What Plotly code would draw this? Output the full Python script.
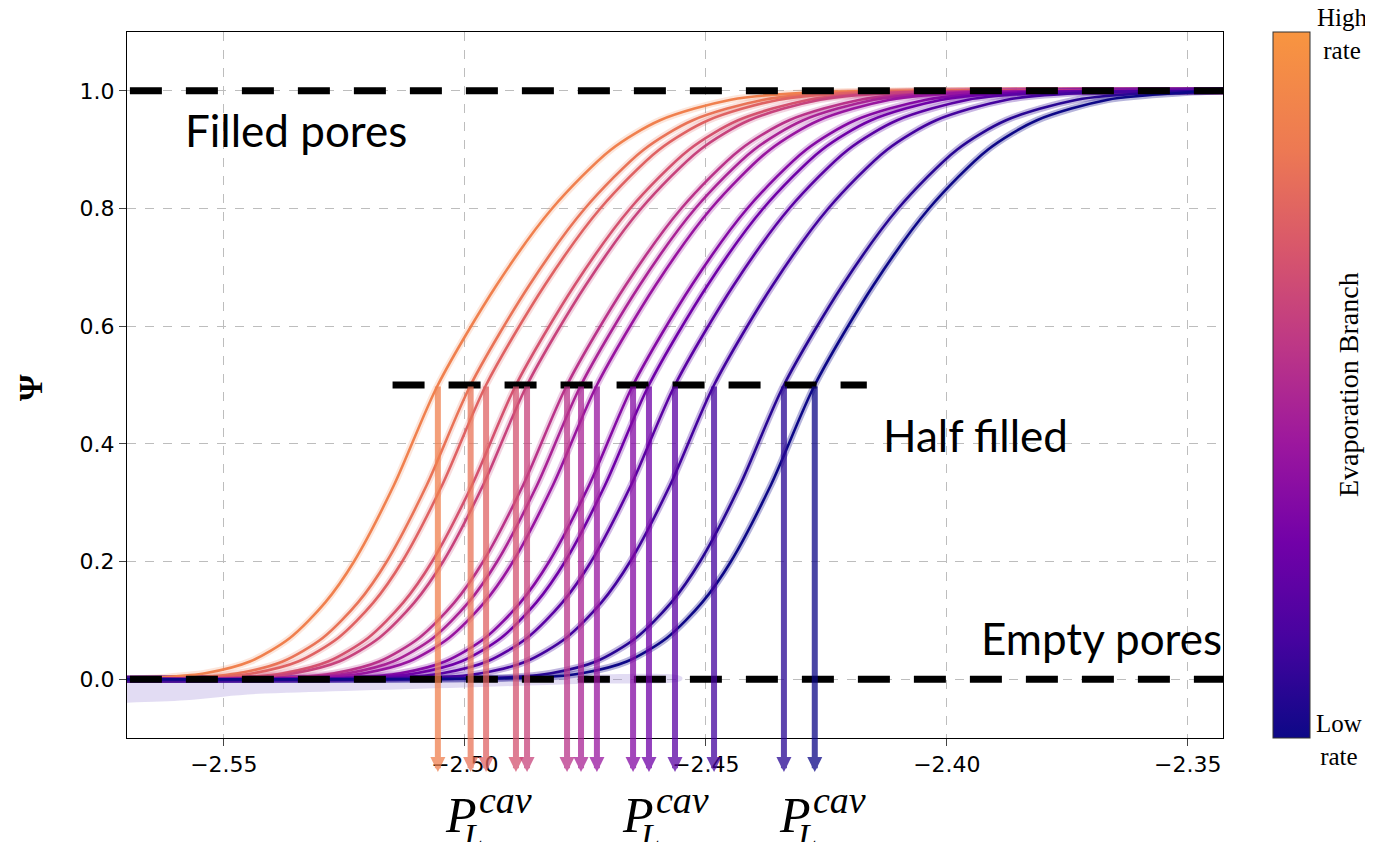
import plotly.graph_objects as go
from plotly.colors import sample_colorscale

# ---------------- data ----------------
X_RANGE = [-2.5701, -2.3427]
Y_RANGE = [-0.1, 1.1]
X_TICKS = [-2.55, -2.50, -2.45, -2.40, -2.35]
Y_TICKS = [0.0, 0.2, 0.4, 0.6, 0.8, 1.0]

# half-filling pressures (P_L^cav) of the 14 evaporation branches, high rate -> low rate
MIDPOINTS = [-2.5056, -2.4988, -2.4956, -2.4894, -2.4871, -2.4788, -2.4759,
             -2.4726, -2.4651, -2.4618, -2.4564, -2.4483, -2.4338, -2.4274]
# position on the colour bar (0 = low rate, 1 = high rate)
RATE_LEVELS = [0.875, 0.808, 0.740, 0.673, 0.606, 0.538, 0.471,
               0.404, 0.337, 0.269, 0.202, 0.135, 0.067, 0.0]

# sigmoid profile: psi levels and x-offset from the half point
PSI_LEVELS = [0.003, 0.01, 0.03, 0.07, 0.13, 0.2, 0.33, 0.5,
              0.67, 0.8, 0.9, 0.95, 0.985, 0.997]
SHAPE_OFFSETS = [-0.0571, -0.0483, -0.0390, -0.0307, -0.0234, -0.0174, -0.0091, 0.0,
                 0.0122, 0.0237, 0.0359, 0.0461, 0.0608, 0.0770]

# noisy baseline of the raw data (upper edge then lower edge)
NOISE_X_UP = [-2.5701, -2.555, -2.53, -2.50, -2.475, -2.455]
NOISE_Y_UP = [0.004, 0.005, 0.006, 0.007, 0.008, 0.004]
NOISE_X_LO = [-2.455, -2.475, -2.50, -2.525, -2.545, -2.558, -2.5701]
NOISE_Y_LO = [-0.002, -0.008, -0.014, -0.020, -0.026, -0.036, -0.040]

FILLED_LEVEL = 1.0
HALF_LEVEL = 0.5
EMPTY_LEVEL = 0.0
HALF_LINE_X = [-2.5156, -2.4166]
ARROW_TIP_Y = -0.158

SCALE = [[0.0, '#0d0887'], [0.139, '#46039f'], [0.278, '#7201a8'], [0.417, '#9c179e'],
         [0.556, '#bd3786'], [0.694, '#d8576b'], [0.833, '#ed7953'], [1.0, '#f89540']]

OFF = 8  # browser body margin (page pixels)


def rgba(col, a):
    col = col.strip()
    if col.startswith('rgb'):
        vals = col[col.index('(') + 1:col.index(')')].split(',')
        r, g, b = [int(float(v)) for v in vals[:3]]
    else:
        col = col.lstrip('#')
        r, g, b = int(col[0:2], 16), int(col[2:4], 16), int(col[4:6], 16)
    return f'rgba({r},{g},{b},{a})'


colors = sample_colorscale(SCALE, RATE_LEVELS)

fig = go.Figure()

# noisy baseline band
fig.add_trace(go.Scatter(x=NOISE_X_UP + NOISE_X_LO, y=NOISE_Y_UP + NOISE_Y_LO,
                         fill='toself', mode='lines', line=dict(width=0, shape='spline'),
                         fillcolor='rgba(160,140,215,0.30)', hoverinfo='skip',
                         showlegend=False))

curves = []
for mid, col in zip(MIDPOINTS, colors):
    xs = [X_RANGE[0]] + [mid + o for o in SHAPE_OFFSETS]
    ys = [0.0] + PSI_LEVELS
    if xs[-1] < X_RANGE[1] - 0.002:
        xs.append(X_RANGE[1])
        ys.append(1.0)
    curves.append((xs, ys, col))

# raw data halo
for i, (xs, ys, col) in enumerate(curves):
    alpha = 0.2 + 0.1 * i / (len(curves) - 1)
    fig.add_trace(go.Scatter(x=xs, y=ys, mode='lines',
                             line=dict(color=rgba(col, alpha), width=7, shape='spline', smoothing=0.8),
                             hoverinfo='skip', showlegend=False))
# fitted curves
for xs, ys, col in curves:
    fig.add_trace(go.Scatter(x=xs, y=ys, mode='lines',
                             line=dict(color=col, width=2.6, shape='spline', smoothing=0.8),
                             hoverinfo='skip', showlegend=False))

# dashed reference lines
for lx, ly in [(X_RANGE, [FILLED_LEVEL, FILLED_LEVEL]),
               (X_RANGE, [EMPTY_LEVEL, EMPTY_LEVEL]),
               (HALF_LINE_X, [HALF_LEVEL, HALF_LEVEL])]:
    fig.add_trace(go.Scatter(x=[lx[0] + 0.0006, lx[1]], y=ly, mode='lines',
                             line=dict(color='black', width=7, dash='32px,24px'),
                             hoverinfo='skip', showlegend=False))

# colour bar carrier
fig.add_trace(go.Scatter(x=[-3], y=[-3], mode='markers',
                         marker=dict(color=[0.5], cmin=0, cmax=1, colorscale=SCALE, showscale=True,
                                     colorbar=dict(thickness=37, thicknessmode='pixels',
                                                   len=706, lenmode='pixels',
                                                   x=1.0456, xanchor='left', xpad=0,
                                                   y=1.0, yanchor='top', ypad=0,
                                                   outlinewidth=1, outlinecolor='#333',
                                                   showticklabels=False, ticks='')),
                         hoverinfo='skip', showlegend=False))

annotations = []
# arrows
for mid, col in zip(MIDPOINTS, colors):
    annotations.append(dict(x=mid, y=ARROW_TIP_Y, ax=mid, ay=HALF_LEVEL, xref='x', yref='y',
                            axref='x', ayref='y', text='', showarrow=True, arrowhead=2,
                            arrowsize=0.5, arrowwidth=6, arrowcolor=rgba(col, 0.75),
                            standoff=0, startstandoff=0))


def px2paper(px, py):
    return (px - 127) / 1096.0, (738 - py) / 706.0


def add_text(text, px, py, size, family, color='black', xanchor='center', yanchor='middle', angle=0):
    x, y = px2paper(px, py)
    annotations.append(dict(x=x, y=y, xref='paper', yref='paper', text=text, showarrow=False,
                            xanchor=xanchor, yanchor=yanchor, textangle=angle,
                            font=dict(size=size, family=family, color=color)))


add_text('Filled pores', 296, 130, 44, 'Lato')
add_text('Half filled', 975, 435, 44, 'Lato')
add_text('Empty pores', 1101, 638, 44, 'Lato')

for shift in [0, 177, 334]:
    add_text('<i>P</i>', 461 + shift, 815, 50, 'Liberation Serif')
    add_text('<i>cav</i>', 505 + shift, 800, 38, 'Liberation Serif')
    add_text('<i>L</i>', 473 + shift, 836, 34, 'Liberation Serif')

add_text('<b>Ψ</b>', 30, 388, 34, 'Liberation Serif', angle=-90)
add_text('High<br>rate', 1315, 34, 25, 'Liberation Serif', xanchor='left')
add_text('Low<br>rate', 1314, 740, 25, 'Liberation Serif', xanchor='left')
add_text('Evaporation Branch', 1348, 385, 28, 'Liberation Serif', angle=-90)

fig.update_layout(
    width=1373 - OFF, height=842 - OFF,
    margin=dict(l=127 - OFF, r=150, t=32 - OFF, b=104),
    paper_bgcolor='white', plot_bgcolor='white',
    annotations=annotations,
    xaxis=dict(range=X_RANGE, tickvals=X_TICKS, tickformat='.2f',
               showgrid=True, gridcolor='#bdbdbd', griddash='dash', gridwidth=1,
               zeroline=False, showline=True, mirror=True, linecolor='black', linewidth=1,
               ticks='outside', ticklen=7, tickcolor='#444',
               tickfont=dict(family='DejaVu Sans', size=22, color='black')),
    yaxis=dict(range=Y_RANGE, tickvals=Y_TICKS, tickformat='.1f',
               showgrid=True, gridcolor='#bdbdbd', griddash='dash', gridwidth=1,
               zeroline=False, showline=True, mirror=True, linecolor='black', linewidth=1,
               ticks='outside', ticklen=7, tickcolor='#444',
               tickfont=dict(family='DejaVu Sans', size=22, color='black')),
)

fig.write_html('out.html')
